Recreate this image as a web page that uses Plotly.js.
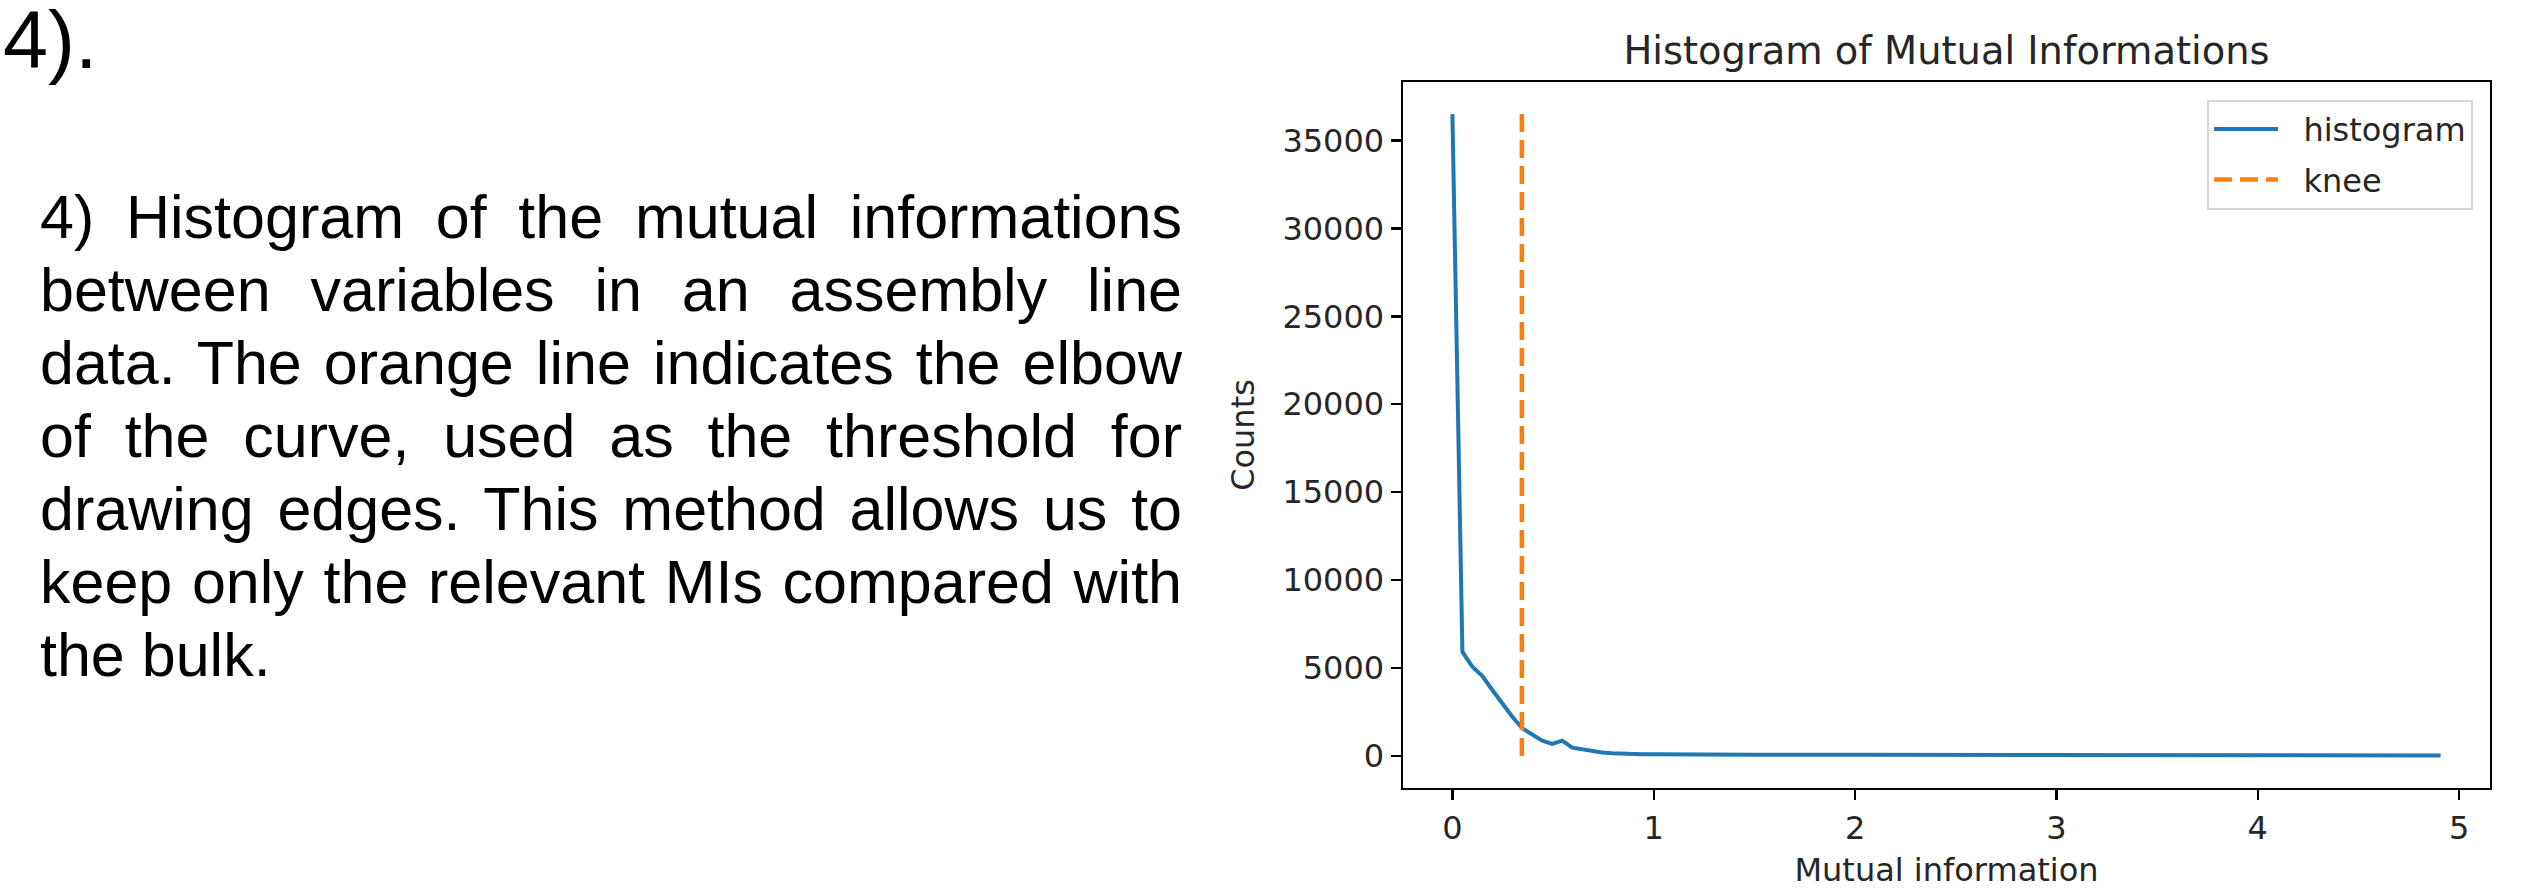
<!DOCTYPE html>
<html>
<head>
<meta charset="utf-8">
<script src="https://cdn.plot.ly/plotly-3.0.1.min.js"></script>
<style>
  html, body { margin: 0; padding: 0; background: #fff; width: 2543px; height: 891px; overflow: hidden; }
  #chart { position: absolute; left: 0; top: 0; width: 2543px; height: 891px; }
  .txt { position: absolute; font-family: "Liberation Sans", Arial, sans-serif; color: #000; }
  #head { left: 3px; top: 0px; font-size: 81px; line-height: 81px; }
  #para { left: 40px; top: 181px; width: 1142px; font-size: 61px; line-height: 73px; }
  #para .j { text-align: justify; text-align-last: justify; }
  #para .l { text-align: left; }
</style>
</head>
<body>
<div id="chart"></div>
<div class="txt" id="head">4).</div>
<div class="txt" id="para">
  <div class="j">4) Histogram of the mutual informations</div>
  <div class="j">between variables in an assembly line</div>
  <div class="j">data. The orange line indicates the elbow</div>
  <div class="j">of the curve, used as the threshold for</div>
  <div class="j">drawing edges. This method allows us to</div>
  <div class="j">keep only the relevant MIs compared with</div>
  <div class="l">the bulk.</div>
</div>
<script>
// Histogram of mutual informations (bin positions and counts)
const miBins = [0, 0.0496, 0.0992, 0.1488, 0.1983, 0.2479, 0.2975, 0.3471, 0.3967, 0.4463,
                0.4958, 0.5454, 0.5950, 0.6446, 0.6942, 0.7438, 0.7934, 0.8430, 0.8925, 0.9421,
                0.9917, 1.0908, 1.1900, 1.2892, 1.4875, 1.9834, 2.4792, 2.9750, 3.4709, 3.9667,
                4.4626, 4.9080];
const miCounts = [36500, 5920, 5070, 4540, 3750, 2990, 2230, 1570, 1190, 870,
                  680, 870, 470, 380, 265, 190, 150, 120, 105, 95,
                  100, 85, 75, 70, 65, 60, 55, 50, 45, 40,
                  35, 30];
// Knee (elbow) threshold
const kneeX = [0.345, 0.345];
const kneeY = [0, 36500];
// Axis ticks
const xTickVals = [0, 1, 2, 3, 4, 5];
const xTickText = ['0', '1', '2', '3', '4', '5'];
const yTickVals = [0, 5000, 10000, 15000, 20000, 25000, 30000, 35000];
const yTickText = ['0', '5000', '10000', '15000', '20000', '25000', '30000', '35000'];
const seriesNames = ['histogram', 'knee'];

const NB = '\u00a0\u00a0';
const traces = [
  { x: miBins, y: miCounts, type: 'scatter', mode: 'lines', name: NB + seriesNames[0], legendgroup: 'a',
    line: { color: '#1f77b4', width: 4 } },
  { x: kneeX, y: kneeY, type: 'scatter', mode: 'lines', name: NB + seriesNames[1], legendgroup: 'b',
    line: { color: '#ff7f0e', width: 4.5, dash: '18px,8px' } }
];

const axisCommon = {
  ticks: 'outside', ticklen: 10, tickwidth: 2.4, tickcolor: '#000',
  showline: true, linecolor: '#000', linewidth: 2.4, mirror: true,
  showgrid: false, zeroline: false,
  tickfont: { family: 'DejaVu Sans', size: 32, color: '#262626' }
};

const layout = {
  width: 2543, height: 891,
  margin: { l: 1403, r: 53, t: 82, b: 103, pad: 0 },
  paper_bgcolor: 'rgba(0,0,0,0)', plot_bgcolor: '#fff',
  font: { family: 'DejaVu Sans', size: 32, color: '#262626' },
  title: { text: 'Histogram of Mutual Informations', font: { family: 'DejaVu Sans', size: 38.4, color: '#262626' },
           x: 0.5, xref: 'paper', xanchor: 'center', y: 1, yref: 'paper', yanchor: 'bottom', pad: { b: 18 } },
  xaxis: Object.assign({}, axisCommon, {
    range: [-0.2454, 5.1534], tickmode: 'array', tickvals: xTickVals, ticktext: xTickText,
    title: { text: 'Mutual information', font: { family: 'DejaVu Sans', size: 32, color: '#262626' }, standoff: 13 }
  }),
  yaxis: Object.assign({}, axisCommon, {
    range: [-1825, 38325], tickmode: 'array', tickvals: yTickVals, ticktext: yTickText,
    title: { text: 'Counts', font: { family: 'DejaVu Sans', size: 32, color: '#262626' }, standoff: 18 }
  }),
  showlegend: true,
  legend: {
    x: 0.9844, y: 0.975, xanchor: 'right', yanchor: 'top',
    bgcolor: '#fff', bordercolor: '#d6d6d6', borderwidth: 2,
    font: { family: 'DejaVu Sans', size: 32, color: '#262626' },
    itemwidth: 64, traceorder: 'grouped', tracegroupgap: 6
  }
};

Plotly.newPlot('chart', traces, layout, { displayModeBar: false, staticPlot: true });
</script>
</body>
</html>
